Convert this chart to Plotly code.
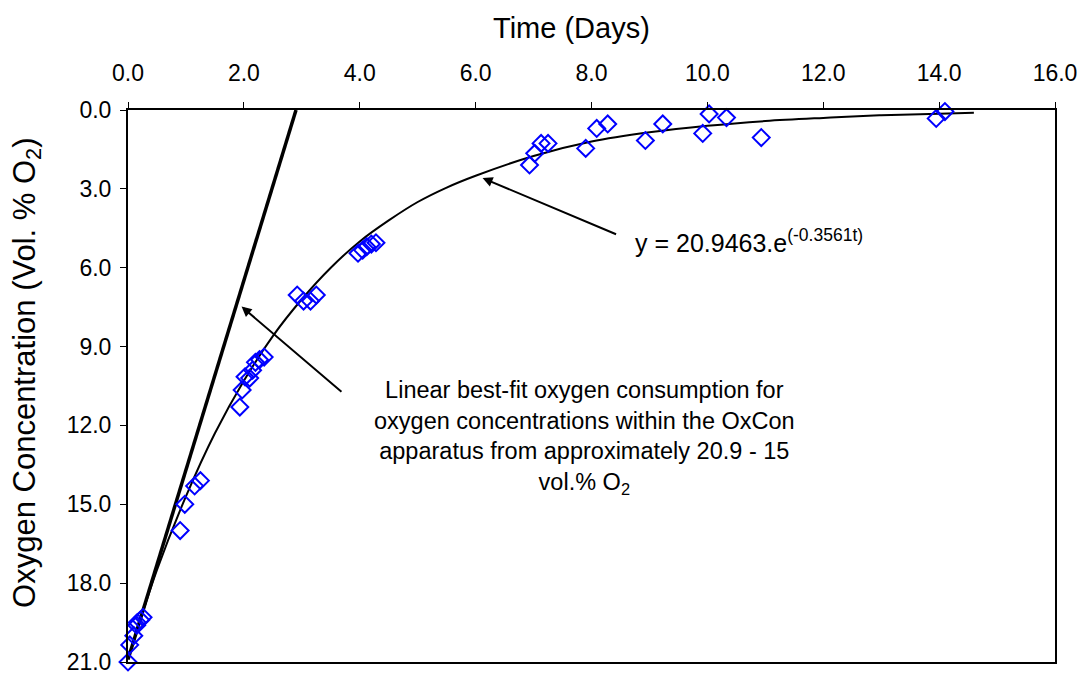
import plotly.graph_objects as go

# Measured oxygen concentration data (Time in days, O2 vol.%)
time_days = [0.00, 0.03, 0.10, 0.15, 0.16, 0.22, 0.26, 0.90, 0.98, 1.15, 1.25,
             1.93, 1.97, 2.02, 2.10, 2.15, 2.20, 2.27, 2.35,
             2.92, 3.03, 3.15, 3.25,
             3.97, 4.05, 4.12, 4.20, 4.28,
             6.93, 7.02, 7.13, 7.25, 7.90, 8.09, 8.28, 8.93, 9.23,
             9.92, 10.03, 10.33, 10.93, 13.95, 14.10]
o2_conc = [21.0, 20.35, 20.0, 19.6, 19.5, 19.4, 19.3, 16.0, 15.0, 14.3, 14.1,
           11.3, 10.65, 10.15, 10.2, 9.9, 9.6, 9.5, 9.4,
           7.04, 7.27, 7.27, 7.04,
           5.45, 5.33, 5.2, 5.1, 5.05,
           2.09, 1.65, 1.27, 1.27, 1.46, 0.70, 0.53, 1.16, 0.53,
           0.89, 0.15, 0.29, 1.05, 0.32, 0.06]

# Exponential trendline
trend_t = [0.0, 0.5, 1.0, 1.5, 2.0, 2.5, 3.0, 3.5, 4.0, 4.5, 5.0, 5.5, 6.0,
           7.0, 8.0, 9.0, 10.0, 11.0, 12.0, 13.0, 14.0, 14.6]
trend_y = [20.9, 17.5, 14.7, 12.3, 10.3, 8.6, 7.2, 6.0, 5.0, 4.2, 3.5, 2.95, 2.5,
           1.75, 1.2, 0.85, 0.6, 0.42, 0.3, 0.2, 0.14, 0.1]

# Linear best-fit line (start / end)
lin_t = [0.0, 2.9]
lin_y = [20.9, 0.0]

x_ticks = [0, 2, 4, 6, 8, 10, 12, 14, 16]
y_ticks = [0, 3, 6, 9, 12, 15, 18, 21]

FONT = "Liberation Sans, Arial, sans-serif"

fig = go.Figure()
fig.add_trace(go.Scatter(x=lin_t, y=lin_y, mode="lines",
                         line=dict(color="black", width=3.5), showlegend=False))
fig.add_trace(go.Scatter(x=trend_t, y=trend_y, mode="lines",
                         line=dict(color="black", width=2, shape="spline"),
                         showlegend=False))
fig.add_trace(go.Scatter(x=time_days, y=o2_conc, mode="markers",
                         cliponaxis=False,
                         marker=dict(symbol="diamond-open", size=13,
                                     color="#0000FF", line=dict(width=2, color="#0000FF")),
                         showlegend=False))

fig.update_layout(
    width=1077, height=667,
    margin=dict(l=120, r=30, t=102, b=13),
    paper_bgcolor="white", plot_bgcolor="white",
    font=dict(family=FONT, size=23, color="black"),
    xaxis=dict(side="top", range=[0, 16], tickvals=x_ticks,
               ticktext=[f"{v:.1f}" for v in x_ticks],
               showgrid=False, zeroline=False, showline=True, linecolor="black",
               linewidth=2, mirror=True, ticks="outside", ticklen=6,
               tickcolor="black", tickfont=dict(size=23), ticklabelstandoff=12,
               ticklabeloverflow="allow", automargin=False),
    yaxis=dict(range=[21, 0], tickvals=y_ticks,
               ticktext=[f"{v:.1f}" for v in y_ticks],
               showgrid=False, zeroline=False, showline=True, linecolor="black",
               linewidth=2, mirror=True, ticks="outside", ticklen=6,
               tickcolor="black", tickfont=dict(size=23), ticklabelstandoff=4,
               ticklabeloverflow="allow", automargin=False),
)

# Axis titles
fig.add_annotation(x=0.478, y=1.1486, xref="paper", yref="paper",
                   xanchor="center", yanchor="middle", showarrow=False,
                   text="Time (Days)", font=dict(size=29))
fig.add_annotation(x=-0.109, y=0.5236, xref="paper", yref="paper",
                   xanchor="center", yanchor="middle", showarrow=False,
                   textangle=-90,
                   text="Oxygen Concentration (Vol. % O<sub>2</sub>)",
                   font=dict(size=31))

# Arrow to exponential trendline
fig.add_annotation(x=6.12, y=2.59, ax=8.45, ay=4.75, xref="x", yref="y",
                   axref="x", ayref="y", text="", showarrow=True,
                   arrowhead=2, arrowsize=1, arrowwidth=2, arrowcolor="black")
fig.add_annotation(x=8.71, y=4.98, xref="x", yref="y", xanchor="left",
                   yanchor="middle",
                   text="y = 20.9463.e<sup>(-0.3561t)</sup>", showarrow=False,
                   font=dict(size=25))

# Arrow to linear best-fit line
fig.add_annotation(x=1.96, y=7.48, ax=3.71, ay=10.77, xref="x", yref="y",
                   axref="x", ayref="y", text="", showarrow=True,
                   arrowhead=2, arrowsize=1, arrowwidth=2, arrowcolor="black")
fig.add_annotation(x=7.88, y=12.45, xref="x", yref="y", xanchor="center",
                   yanchor="middle",
                   text=("Linear best-fit oxygen consumption for<br>"
                         "oxygen concentrations within the OxCon<br>"
                         "apparatus from approximately 20.9 - 15<br>"
                         "vol.% O<sub>2</sub>"),
                   showarrow=False, align="center", font=dict(size=23.5))

fig.write_html("out.html")
